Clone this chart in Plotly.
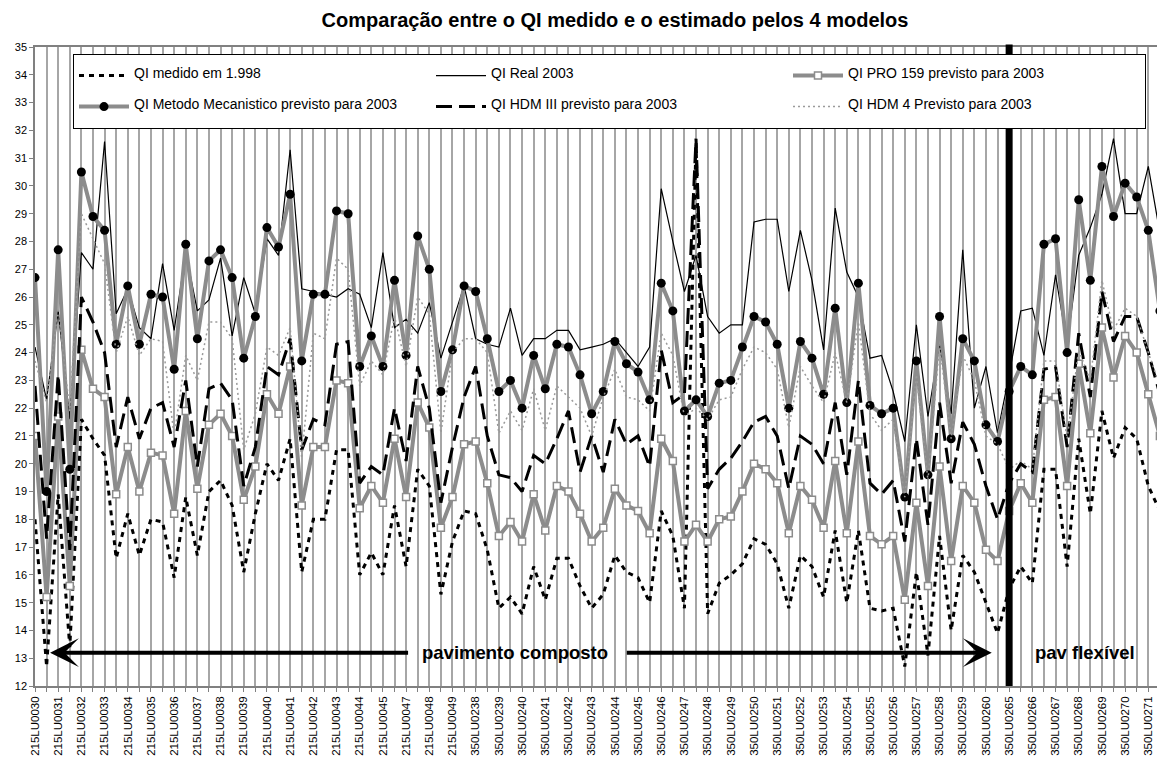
import plotly.graph_objects as go

# ---- tick labels (every other category is labelled) ----
tick_labels = [
    "215LU0030", "215LU0031", "215LU0032", "215LU0033", "215LU0034", "215LU0035",
    "215LU0036", "215LU0037", "215LU0038", "215LU0039", "215LU0040", "215LU0041",
    "215LU0042", "215LU0043", "215LU0044", "215LU0045", "215LU0047", "215LU0048",
    "215LU0049", "350LU0238", "350LU0239", "350LU0240", "350LU0241", "350LU0242",
    "350LU0243", "350LU0244", "350LU0245", "350LU0246", "350LU0247", "350LU0248",
    "350LU0249", "350LU0250", "350LU0251", "350LU0252", "350LU0253", "350LU0254",
    "350LU0255", "350LU0256", "350LU0257", "350LU0258", "350LU0259", "350LU0260",
    "350LU0265", "350LU0266", "350LU0267", "350LU0268", "350LU0269", "350LU0270",
    "350LU0271",
]

# ---- series values (one value per sub-segment) ----
qi_medido_1998 = [
    18.0, 12.7, 18.9, 13.4, 21.6, 20.9, 20.3, 16.6, 18.2, 16.7, 18.0, 17.9, 15.9, 18.8, 16.7, 19.0, 19.4,
    18.5, 16.1, 18.2, 20.0, 19.4, 20.9, 16.1, 18.0, 18.0, 20.5, 20.5, 16.0, 16.8, 16.0, 18.5, 16.3,
    19.8, 19.2, 15.3, 17.2, 18.3, 18.2, 16.9, 14.8, 15.2, 14.6, 16.3, 15.1, 16.6, 16.6, 15.6, 14.8,
    15.3, 16.7, 16.1, 15.9, 15.0, 18.3, 17.4, 14.8, 31.6, 14.6, 15.7, 16.0, 16.4, 17.3, 17.1, 16.4,
    14.8, 16.7, 16.3, 15.2, 17.6, 15.0, 17.6, 14.8, 14.7, 14.8, 12.7, 16.1, 13.1, 17.4, 14.0, 16.7,
    16.1, 15.0, 13.9, 15.5, 16.3, 15.7, 19.8, 19.8, 16.3, 20.9, 18.2, 21.9, 20.2, 21.3, 20.9, 19.2, 18.3,
]
qi_real_2003 = [
    24.2, 22.3, 25.5, 21.6, 27.6, 27.0, 31.6, 25.4, 26.3, 24.9, 24.5, 27.2, 24.8, 27.6, 25.5, 25.9, 27.4,
    24.6, 26.7, 25.4, 28.1, 27.5, 31.3, 26.3, 26.2, 26.1, 26.0, 26.3, 26.1, 24.9, 27.6, 24.9, 25.2,
    24.7, 25.8, 23.8, 25.1, 26.4, 24.5, 24.3, 24.2, 25.6, 23.9, 24.5, 24.5, 24.8, 24.8, 24.1, 24.2,
    24.3, 24.5, 24.0, 23.5, 24.2, 29.9, 28.0, 26.2, 27.5, 25.3, 24.7, 25.0, 25.0, 28.7, 28.8, 28.8,
    26.2, 28.4, 26.6, 24.1, 29.2, 26.9, 26.0, 23.8, 23.9, 22.6, 20.8, 25.0, 21.7, 24.3, 21.8, 27.7,
    22.0, 23.5, 21.1, 23.2, 25.5, 25.6, 23.9, 26.8, 24.3, 27.5, 28.5, 29.7, 31.7, 29.0, 29.0, 30.7, 28.3,
]
qi_pro159_2003 = [
    21.0, 15.2, 21.7, 15.6, 24.1, 22.7, 22.4, 18.9, 20.6, 19.0, 20.4, 20.3, 18.2, 21.9, 19.1, 21.4, 21.8,
    21.0, 18.7, 19.9, 22.5, 21.8, 23.5, 18.5, 20.6, 20.6, 23.0, 22.9, 18.4, 19.2, 18.6, 20.9, 18.8,
    22.2, 21.3, 17.7, 18.8, 20.7, 20.8, 19.3, 17.4, 17.9, 17.2, 18.9, 17.6, 19.2, 19.0, 18.2, 17.2,
    17.7, 19.1, 18.5, 18.3, 17.5, 20.9, 20.1, 17.2, 17.8, 17.2, 18.0, 18.1, 19.0, 20.0, 19.8, 19.3,
    17.5, 19.2, 18.7, 17.7, 20.1, 17.5, 20.8, 17.4, 17.1, 17.4, 15.1, 18.6, 15.6, 19.9, 16.5, 19.2,
    18.6, 16.9, 16.5, 18.3, 19.3, 18.6, 22.3, 22.4, 19.2, 23.6, 21.1, 24.9, 23.1, 24.6, 24.0, 22.5, 21.0,
]
qi_mecanistico_2003 = [
    26.7, 19.0, 27.7, 19.8, 30.5, 28.9, 28.4, 24.3, 26.4, 24.3, 26.1, 26.0, 23.4, 27.9, 24.5, 27.3, 27.7,
    26.7, 23.8, 25.3, 28.5, 27.8, 29.7, 23.7, 26.1, 26.1, 29.1, 29.0, 23.5, 24.6, 23.5, 26.6, 23.9,
    28.2, 27.0, 22.6, 24.1, 26.4, 26.2, 24.5, 22.6, 23.0, 22.0, 23.9, 22.7, 24.3, 24.2, 23.2, 21.8,
    22.6, 24.4, 23.6, 23.3, 22.3, 26.5, 25.5, 21.9, 22.3, 21.7, 22.9, 23.0, 24.2, 25.3, 25.1, 24.3,
    22.0, 24.4, 23.8, 22.5, 25.6, 22.2, 26.5, 22.1, 21.8, 22.0, 18.8, 23.7, 19.6, 25.3, 20.9, 24.5,
    23.7, 21.4, 20.8, 22.6, 23.5, 23.2, 27.9, 28.1, 24.0, 29.5, 26.6, 30.7, 28.9, 30.1, 29.6, 28.4, 25.5,
]
qi_hdm3_2003 = [
    22.8, 17.3, 23.2, 16.9, 26.0, 25.1, 24.0, 20.6, 22.4, 20.9, 22.0, 22.2, 20.6, 23.0, 19.9, 22.7, 22.9,
    22.3, 19.2, 20.6, 23.5, 23.2, 24.5, 20.5, 21.6, 21.4, 24.3, 24.4, 19.3, 19.9, 19.6, 22.0, 20.1,
    23.5, 22.0, 18.6, 20.6, 22.4, 23.5, 21.0, 19.6, 19.5, 19.0, 20.3, 20.0, 20.9, 21.9, 19.7, 21.0,
    19.7, 21.6, 20.7, 21.0, 19.9, 24.1, 22.2, 22.5, 31.7, 19.1, 19.8, 20.2, 20.8, 21.5, 21.7, 21.0,
    19.1, 21.0, 20.7, 20.0, 22.2, 19.6, 23.0, 19.3, 18.9, 19.4, 17.2, 20.9, 17.8, 22.2, 19.3, 21.5,
    20.7, 19.2, 18.0, 19.3, 20.0, 19.7, 23.4, 23.5, 20.6, 24.7, 22.4, 26.2, 24.4, 25.3, 25.3, 24.0, 22.5,
]
qi_hdm4_2003 = [
    23.7, 22.2, 25.6, 21.9, 29.0, 28.1, 27.2, 24.0, 25.3, 23.9, 24.5, 24.4, 21.0, 23.9, 23.0, 25.1, 25.1,
    24.5, 20.5, 21.8, 24.2, 23.9, 24.9, 20.2, 24.7, 24.5, 27.4, 27.0, 22.8, 23.7, 23.2, 25.3, 23.5,
    26.0, 25.4, 21.1, 24.0, 24.5, 24.5, 24.0, 21.1, 21.9, 21.2, 22.7, 21.2, 22.8, 22.4, 22.0, 21.0,
    22.4, 23.4, 22.4, 22.3, 21.9, 24.7, 23.9, 21.7, 22.0, 21.6, 22.3, 22.4, 23.4, 24.2, 24.0, 23.4,
    21.3, 23.5, 22.8, 22.2, 24.0, 22.2, 25.1, 21.8, 21.2, 21.6, 18.8, 23.2, 19.4, 24.3, 20.9, 23.9,
    23.0, 21.0, 20.7, 19.8, 20.1, 19.8, 23.7, 23.7, 20.9, 24.1, 23.0, 26.6, 24.8, 25.6, 25.3, 24.0, 22.8,
]

n = len(qi_real_2003)
xs = list(range(n))
tickvals = [2 * k for k in range(len(tick_labels))]
boundary_index = tickvals[tick_labels.index("350LU0265")]

FONT = "Arial, Liberation Sans, sans-serif"
GRAY = "#8c8c8c"


def leg(name):
    tiny = "<span style='font-size:2px'>&nbsp;</span>"
    return f"{tiny}<br><span style='font-size:14px'>{name}</span><br>{tiny}"


fig = go.Figure()
fig.add_trace(go.Scatter(x=xs, y=qi_medido_1998, mode="lines", name=leg("QI medido em 1.998"),
                         line=dict(color="black", width=3, dash="5px,5px")))
fig.add_trace(go.Scatter(x=xs, y=qi_real_2003, mode="lines", name=leg("QI Real 2003"),
                         line=dict(color="black", width=1.2)))
fig.add_trace(go.Scatter(x=xs, y=qi_pro159_2003, mode="lines+markers",
                         name=leg("QI PRO 159 previsto para 2003"),
                         line=dict(color=GRAY, width=4),
                         marker=dict(symbol="square", size=7, color="white",
                                     line=dict(color=GRAY, width=1.5))))
fig.add_trace(go.Scatter(x=xs, y=qi_mecanistico_2003, mode="lines+markers",
                         name=leg("QI Metodo Mecanistico previsto para 2003"),
                         line=dict(color=GRAY, width=4),
                         marker=dict(symbol="circle", size=9, color="black")))
fig.add_trace(go.Scatter(x=xs, y=qi_hdm3_2003, mode="lines",
                         name=leg("QI HDM III previsto para 2003"),
                         line=dict(color="black", width=3, dash="16px,7px")))
fig.add_trace(go.Scatter(x=xs, y=qi_hdm4_2003, mode="lines",
                         name=leg("QI HDM 4 Previsto para 2003"),
                         line=dict(color="#9a9a9a", width=1.5, dash="2px,3px")))

fig.update_layout(
    width=1157, height=760,
    margin=dict(l=35, r=0, t=47, b=74),
    paper_bgcolor="white", plot_bgcolor="white",
    font=dict(family=FONT, color="black"),
    title=dict(text="<b>Comparação entre o QI medido e o estimado pelos 4 modelos</b>",
               x=615 / 1157, xanchor="center", xref="container",
               y=1 - 20 / 760, yanchor="middle", yref="container",
               font=dict(size=20, family=FONT, color="black")),
    showlegend=True,
    legend=dict(orientation="h", x=(73 - 35) / 1122, xanchor="left",
                y=(686 - 54) / 639, yanchor="top",
                bgcolor="white", bordercolor="black", borderwidth=1,
                font=dict(size=7.2, family=FONT, color="black"),
                itemwidth=50, entrywidth=292, entrywidthmode="pixels",
                traceorder="normal"),
    xaxis=dict(range=[0, 96.75], tickmode="array", tickvals=tickvals, ticktext=tick_labels,
               tickangle=-90, tickfont=dict(size=11.5, family=FONT, color="black"),
               showgrid=True, gridcolor="#a6a6a6", gridwidth=1.5,
               ticks="outside", ticklen=4, tickcolor="#808080",
               minor=dict(tickmode="linear", tick0=0, dtick=1, showgrid=True,
                          gridcolor="#a6a6a6", gridwidth=1.5, ticks="outside",
                          ticklen=4, tickcolor="#808080"),
               showline=True, linecolor="#808080", linewidth=1.5, mirror=True,
               zeroline=False, fixedrange=True),
    yaxis=dict(range=[12, 35], dtick=1, tick0=12, showgrid=False,
               ticks="outside", ticklen=4, tickcolor="#808080",
               tickfont=dict(size=11, family=FONT, color="black"),
               showline=True, linecolor="#808080", linewidth=1.5,
               zeroline=False, fixedrange=True),
)

# boundary between pavement types
fig.add_shape(type="line", xref="x", yref="paper", x0=boundary_index, x1=boundary_index,
              y0=0, y1=1.004, line=dict(color="black", width=7))

arrow_y = 13.2
fig.add_annotation(x=1.3, y=arrow_y, ax=32.3, ay=arrow_y, xref="x", yref="y",
                   axref="x", ayref="y", text="", showarrow=True,
                   arrowhead=3, arrowsize=1.2, arrowwidth=4, arrowcolor="black")
fig.add_annotation(x=82.5, y=arrow_y, ax=50.9, ay=arrow_y, xref="x", yref="y",
                   axref="x", ayref="y", text="", showarrow=True,
                   arrowhead=3, arrowsize=1.2, arrowwidth=4, arrowcolor="black")
fig.add_annotation(x=41.35, y=arrow_y, xref="x", yref="y", text="<b>pavimento composto</b>",
                   showarrow=False, font=dict(size=18.5, family=FONT, color="black"))
fig.add_annotation(x=90.5, y=arrow_y, xref="x", yref="y", text="<b>pav flexível</b>",
                   showarrow=False, font=dict(size=18.5, family=FONT, color="black"))

fig.write_html("out.html", config={"displayModeBar": False},
               post_script="document.body.style.margin='0px';")
